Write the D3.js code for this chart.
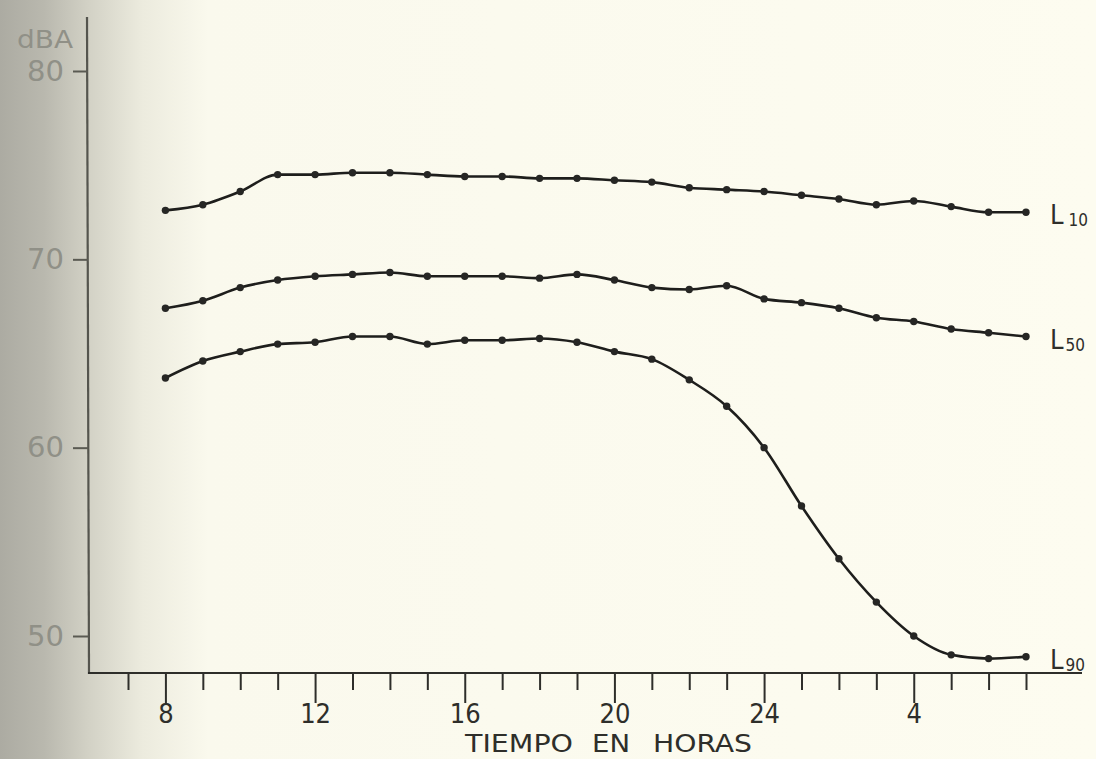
<!DOCTYPE html>
<html>
<head>
<meta charset="utf-8">
<script src="https://cdn.jsdelivr.net/npm/d3@7/dist/d3.min.js"></script>
<style>
  html, body { margin: 0; padding: 0; background: #fcfbee; }
  svg { display: block; }
  .lbl { font-family: "DejaVu Sans Condensed", "DejaVu Sans", sans-serif; }
</style>
</head>
<body>
<svg id="chart" width="1096" height="759"></svg>
<script>
// ---- data ----
const hours = [8, 9, 10, 11, 12, 13, 14, 15, 16, 17, 18, 19, 20, 21, 22, 23, 24, 25, 26, 27, 28, 29, 30, 31];
const L10 = [72.6, 72.9, 73.6, 74.5, 74.5, 74.6, 74.6, 74.5, 74.4, 74.4, 74.3, 74.3, 74.2, 74.1, 73.8, 73.7, 73.6, 73.4, 73.2, 72.9, 73.1, 72.8, 72.5, 72.5];
const L50 = [67.4, 67.8, 68.5, 68.9, 69.1, 69.2, 69.3, 69.1, 69.1, 69.1, 69.0, 69.2, 68.9, 68.5, 68.4, 68.6, 67.9, 67.7, 67.4, 66.9, 66.7, 66.3, 66.1, 65.9];
const L90 = [63.7, 64.6, 65.1, 65.5, 65.6, 65.9, 65.9, 65.5, 65.7, 65.7, 65.8, 65.6, 65.1, 64.7, 63.6, 62.2, 60.0, 56.9, 54.1, 51.8, 50.0, 49.0, 48.8, 48.9];
const seriesNames = ["L10", "L50", "L90"];
const seriesSub = ["10", "50", "90"];
const xTicks = [7, 8, 9, 10, 11, 12, 13, 14, 15, 16, 17, 18, 19, 20, 21, 22, 23, 24, 25, 26, 27, 28, 29, 30, 31];
const xMajor = [8, 12, 16, 20, 24, 28];
const xTickLabels = ["8", "12", "16", "20", "24", "4"];
const yTicks = [50, 60, 70, 80];
const yUnit = "dBA";
const xTitle = ["TIEMPO", "EN", "HORAS"];

// ---- setup ----
const svg = d3.select("#chart");
const W = 1096, H = 759;

// paper background with scan shading on the left
const defs = svg.append("defs");
const grad = defs.append("linearGradient").attr("id", "shade").attr("x1", 0).attr("x2", 1).attr("y1", 0).attr("y2", 0);
[[0, "#acaba2"], [0.04, "#b9b8ae"], [0.08, "#d2d1c5"], [0.13, "#ecebde"], [0.19, "#faf9ed"], [1, "#fdfcf0"]]
  .forEach(([o, c]) => grad.append("stop").attr("offset", o).attr("stop-color", c));
svg.append("rect").attr("width", W).attr("height", H).attr("fill", "url(#shade)");

const x = d3.scaleLinear().domain([7, 31]).range([128, 1026]);
const y = d3.scaleLinear().domain([50, 80]).range([636, 71]);

const axisColor = "#2e2e2a";

// y axis line
svg.append("line").attr("x1", 87).attr("x2", 89).attr("y1", 17).attr("y2", 674)
  .attr("stroke", "#55554e").attr("stroke-width", 2.2);
// x axis line
svg.append("line").attr("x1", 88).attr("x2", 1082).attr("y1", 673).attr("y2", 673)
  .attr("stroke", axisColor).attr("stroke-width", 2.2);

// y axis ticks + labels
const yAxis = d3.axisLeft(y).tickValues(yTicks).tickSize(15).tickPadding(9).tickFormat(d3.format("d"));
const gy = svg.append("g").attr("transform", "translate(88,0)").call(yAxis);
gy.select(".domain").remove();
gy.selectAll(".tick line").attr("stroke", "#5a5a52").attr("stroke-width", 2);
gy.selectAll(".tick text").attr("fill", "#909087")
  .attr("font-size", 29).attr("font-family", "'DejaVu Sans', sans-serif");

svg.append("text").attr("x", 17).attr("y", 48)
  .attr("fill", "#909087").attr("font-size", 24).attr("font-family", "'DejaVu Sans', sans-serif")
  .attr("textLength", 56).attr("lengthAdjust", "spacingAndGlyphs")
  .text(yUnit);

// x axis ticks + labels
const xAxis = d3.axisBottom(x).tickValues(xTicks).tickSize(17).tickPadding(0)
  .tickFormat(d => { const i = xMajor.indexOf(d); return i >= 0 ? xTickLabels[i] : ""; });
const gx = svg.append("g").attr("transform", "translate(0,673)").call(xAxis);
gx.select(".domain").remove();
gx.selectAll(".tick line").attr("stroke", axisColor).attr("stroke-width", 2)
  .attr("y2", d => xMajor.includes(d) ? 30 : 17);
gx.selectAll(".tick text").attr("fill", "#2e2e2a")
  .attr("font-size", 27).attr("dy", 0).attr("y", 50)
  .attr("font-family", "'DejaVu Sans Condensed', 'DejaVu Sans', sans-serif")
  .attr("font-weight", 300);

// x title
const titlePos = [[465, 108], [592, 38], [653, 99]];
xTitle.forEach((t, i) => {
  svg.append("text").attr("class", "lbl").attr("x", titlePos[i][0]).attr("y", 752)
    .attr("font-size", 25).attr("fill", "#2e2e2a")
    .attr("textLength", titlePos[i][1]).attr("lengthAdjust", "spacingAndGlyphs")
    .text(t);
});

// series
const data = [L10, L50, L90];
const line = d3.line().x(d => x(d[0])).y(d => y(d[1])).curve(d3.curveMonotoneX);
data.forEach((vals, si) => {
  const pts = hours.map((h, i) => [h, vals[i]]);
  svg.append("path").datum(pts).attr("d", line)
    .attr("fill", "none").attr("stroke", "#1e1e1c").attr("stroke-width", 2.6);
  svg.append("g").selectAll("circle").data(pts).join("circle")
    .attr("cx", d => x(d[0])).attr("cy", d => y(d[1])).attr("r", 3.7)
    .attr("fill", "#262624");
  // label
  const last = pts[pts.length - 1];
  const t = svg.append("text").attr("class", "lbl")
    .attr("x", x(last[0]) + 24).attr("y", y(last[1]) + 12)
    .attr("fill", "#2e2e2a").attr("font-size", 27);
  t.append("tspan").text("L");
  t.append("tspan").attr("font-size", 17).attr("dx", si === 0 ? 5 : 2).attr("dy", 2).text(seriesSub[si]);
});
</script>
</body>
</html>
